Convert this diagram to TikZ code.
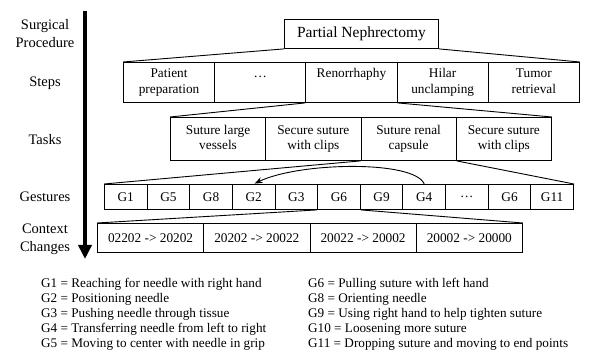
\documentclass[tikz,border=0pt]{standalone}
\usepackage{fontspec}
\setmainfont{Liberation Serif}
\usetikzlibrary{arrows.meta}
\begin{document}
\begin{tikzpicture}[x=1pt,y=-1pt,
  cell/.style={draw, line width=0.9pt, inner sep=0pt, anchor=north west, align=center,
    font=\fontsize{13.3}{15.5}\selectfont},
  stepcell/.style={cell, minimum width=91.2pt, minimum height=40pt},
  taskcell/.style={cell, minimum width=95.25pt, minimum height=43pt},
  gestcell/.style={cell, minimum width=42.64pt, minimum height=25pt},
  ctxcell/.style={cell, minimum width=106.25pt, minimum height=29pt},
  lab/.style={font=\fontsize{14.5}{18}\selectfont, align=center, inner sep=0pt},
  link/.style={line width=0.9pt},
  legend/.style={anchor=north west, inner sep=0pt, align=left, font=\fontsize{13.2}{15}\selectfont}]
\useasboundingbox (0,0) rectangle (598,355);

% axis
\coordinate (axtop) at (85,11);
\coordinate (axbot) at (85,259);
\draw[line width=4.5pt, -{Triangle[length=14pt,width=13pt]}] (axtop) -- (axbot);

% left labels
\node[lab] (lsp) at (45,34) {Surgical\\Procedure};
\node[lab] (lst) at (45,83) {Steps};
\node[lab] (lta) at (45,140) {Tasks};
\node[lab] (lge) at (45,197) {Gestures};
\node[lab] (lcc) at (45,239) {Context\\Changes};

% procedure
\node[cell, minimum width=154pt, minimum height=29pt, font=\fontsize{15.5}{18}\selectfont] (pn) at (284,19) {Partial Nephrectomy};

% steps
\node[stepcell] (s1) at (123,62) {\strut Patient\\\strut preparation};
\node[stepcell] (s2) at (214.2,62) {\strut …\\\strut};
\node[stepcell] (s3) at (305.4,62) {\strut Renorrhaphy\\\strut};
\node[stepcell] (s4) at (396.6,62) {\strut Hilar\\\strut unclamping};
\node[stepcell] (s5) at (487.8,62) {\strut Tumor\\\strut retrieval};

% tasks
\node[taskcell] (t1) at (170,117) {\strut Suture large\\\strut vessels};
\node[taskcell] (t2) at (265.25,117) {\strut Secure suture\\\strut with clips};
\node[taskcell] (t3) at (360.5,117) {\strut Suture renal\\\strut capsule};
\node[taskcell] (t4) at (455.75,117) {\strut Secure suture\\\strut with clips};

% gestures
\foreach \t [count=\i] in {G1,G5,G8,G2,G3,G6,G9,G4,…,G6,G11}
  \node[gestcell] (g\i) at ({104+(\i-1)*42.64},184) {\t};

% context changes
\node[ctxcell] (c1) at (97,223) {02202 -> 20202};
\node[ctxcell] (c2) at (203.25,223) {20202 -> 20022};
\node[ctxcell] (c3) at (309.5,223) {20022 -> 20002};
\node[ctxcell] (c4) at (415.75,223) {20002 -> 20000};

% expansion lines
\draw[link] (pn.south west) -- (s1.north west);
\draw[link] (pn.south east) -- (s5.north east);
\draw[link] (s3.south west) -- (t1.north west);
\draw[link] (s3.south east) -- (t4.north east);
\draw[link] (t3.south west) -- (g1.north west);
\draw[link] (t3.south east) -- (g11.north east);
\draw[link] (g6.south west) -- (c1.north west);
\draw[link] (g6.south east) -- (c4.north east);

% curved arrow G4 -> G2
\draw[link, -{Stealth[length=8pt,width=6pt]}, shorten >=1pt]
  (g8.north) .. controls +(-10,-24) and +(46,-22) .. (g4.north);

% legend
\node[legend] (legl) at (41,278) {G1 = Reaching for needle with right hand\\
G2 = Positioning needle\\
G3 = Pushing needle through tissue\\
G4 = Transferring needle from left to right\\
G5 = Moving to center with needle in grip};
\node[legend] (legr) at (308,278) {G6 = Pulling suture with left hand\\
G8 = Orienting needle\\
G9 = Using right hand to help tighten suture\\
G10 = Loosening more suture\\
G11 = Dropping suture and moving to end points};
\end{tikzpicture}
\end{document}
